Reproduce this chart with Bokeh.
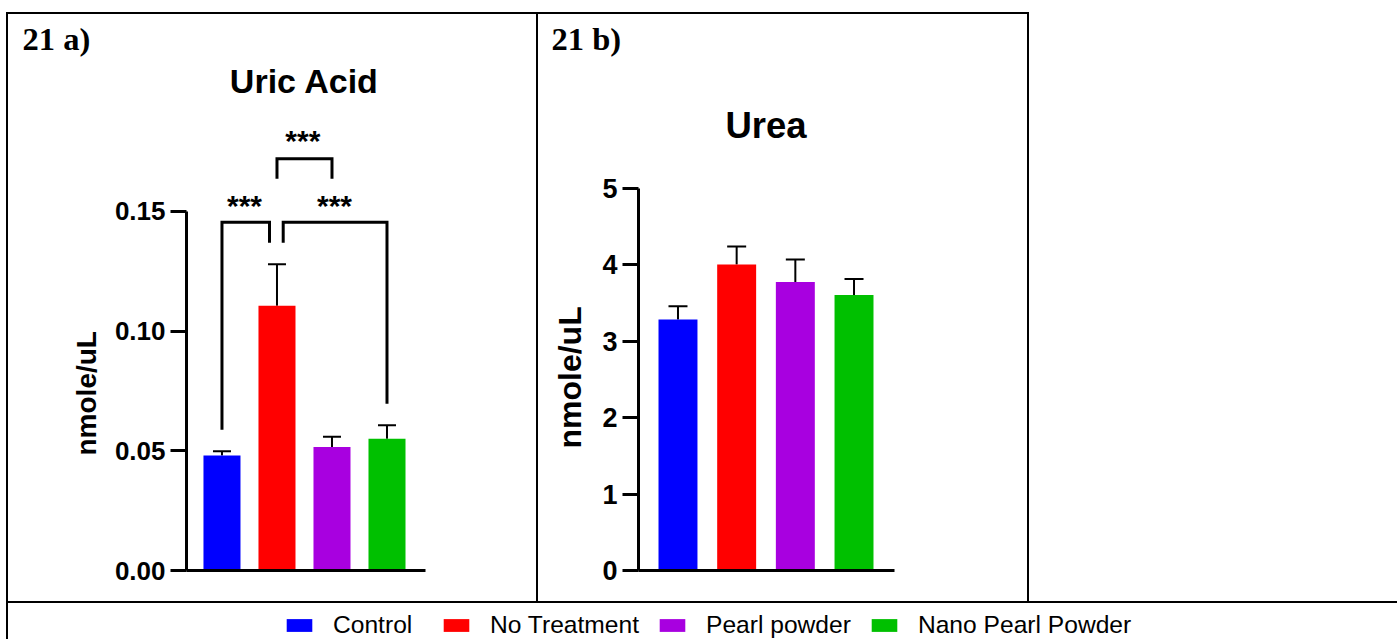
from bokeh.plotting import figure
from bokeh.models import (ColumnDataSource, Range1d, LinearAxis, FixedTicker, Whisker, TeeHead,
                          Title, Legend, LegendItem, Div, Spacer, NumeralTickFormatter)
from bokeh.layouts import row, column
from bokeh.embed import file_html
from bokeh.resources import INLINE
from bokeh.core.properties import value

# ---------------- data ----------------
groups = ["Control", "No Treatment", "Pearl powder", "Nano Pearl Powder"]
colors = ["#0000FF", "#FF0000", "#A800E0", "#00C000"]

uric_mean = [0.0481, 0.1106, 0.0516, 0.0551]
uric_err = [0.0017, 0.0174, 0.0043, 0.0056]
urea_mean = [3.28, 4.00, 3.77, 3.60]
urea_err = [0.175, 0.235, 0.295, 0.21]

uric_ticks = [0.0, 0.05, 0.10, 0.15]
urea_ticks = [0, 1, 2, 3, 4, 5]

# significance comparisons (uric acid): group i vs group j
uric_sig_pairs = [(0, 1), (1, 3), (1, 2)]
uric_sig_text = ["***", "***", "***"]

FONT = "Liberation Sans"
SERIF = "Liberation Serif"


def style_axes(p, ticks, tick_size, fmt=None):
    yax = LinearAxis(bounds=(ticks[0], ticks[-1]), ticker=FixedTicker(ticks=ticks))
    if fmt:
        yax.formatter = NumeralTickFormatter(format=fmt)
    yax.axis_line_width = 3
    yax.axis_line_color = "black"
    yax.major_tick_line_width = 3
    yax.major_tick_out = 16
    yax.major_tick_in = 0
    yax.minor_tick_line_color = None
    yax.major_label_standoff = 5
    yax.major_label_text_font = FONT
    yax.major_label_text_font_style = "bold"
    yax.major_label_text_font_size = tick_size
    yax.major_label_text_color = "black"
    p.add_layout(yax, "left")

    xax = LinearAxis(ticker=FixedTicker(ticks=[]))
    xax.axis_line_width = 3
    xax.axis_line_color = "black"
    xax.major_tick_line_color = None
    xax.minor_tick_line_color = None
    xax.major_label_text_font_size = "0px"
    p.add_layout(xax, "below")


def make_chart(width, x_range, y_range, mb_left, mb_right):
    p = figure(width=width, height=587, x_range=x_range, y_range=y_range,
               x_axis_type=None, y_axis_type=None, toolbar_location=None,
               output_backend="svg", min_border_left=mb_left, min_border_right=mb_right,
               min_border_top=50, min_border_bottom=31)
    p.outline_line_color = None
    p.background_fill_color = "white"
    p.border_fill_color = "white"
    return p


def add_titles(p, tag, tag_offset, ylab_size, ylab_offset, ylab_standoff):
    p.add_layout(Title(text=tag, align="left", vertical_align="top", offset=tag_offset,
                       text_font=SERIF, text_font_style="bold", text_font_size="32.5px",
                       text_color="black", standoff=12), "above")
    p.add_layout(Title(text="nmole/uL", align="left", offset=ylab_offset, text_font=FONT,
                       text_font_style="bold", text_font_size=ylab_size, text_color="black",
                       standoff=ylab_standoff), "left")


# ---------------- chart a: Uric Acid ----------------
xa = list(range(len(groups)))
src_a = ColumnDataSource(dict(x=xa, top=uric_mean,
                              upper=[m + e for m, e in zip(uric_mean, uric_err)],
                              color=colors))
pa = make_chart(528, Range1d(-0.645, 3.70), Range1d(0, 0.21142), 178, 111)
style_axes(pa, uric_ticks, "26px", fmt="0.00")
add_titles(pa, "21 a)", -164, "28px", 115, 20)
pa.vbar(x="x", top="top", bottom=0, width=0.673, color="color", line_color=None, source=src_a)
pa.add_layout(Whisker(base="x", upper="upper", lower="top", source=src_a, dimension="height",
                      line_width=2, line_color="black",
                      upper_head=TeeHead(size=18, line_width=2, line_color="black"),
                      lower_head=None))

# significance brackets
br_xs, br_ys, st_x, st_y = [], [], [], []
(i0, j0), (i1, j1), (i2, j2) = uric_sig_pairs
br_xs.append([xa[i0], xa[i0], xa[j0] - 0.136, xa[j0] - 0.136])
br_ys.append([0.0588, 0.1455, 0.1455, 0.1369])
st_x.append(0.41); st_y.append(0.1532)
br_xs.append([xa[i1] + 0.113, xa[i1] + 0.113, xa[j1], xa[j1]])
br_ys.append([0.1369, 0.1455, 0.1455, 0.0697])
st_x.append(2.045); st_y.append(0.1532)
br_xs.append([xa[i2], xa[i2], xa[j2], xa[j2]])
br_ys.append([0.1637, 0.1720, 0.1720, 0.1637])
st_x.append(1.47); st_y.append(0.1805)
pa.multi_line(xs=br_xs, ys=br_ys, line_width=3, line_color="black", line_join="miter")
pa.text(x=st_x, y=st_y, text=uric_sig_text, text_font=value(FONT), text_font_style="bold",
        text_font_size="30px", text_align="center", text_baseline="alphabetic",
        y_offset=2, text_color="black")
pa.text(x=[1.5], y=[0.2047], text=["Uric Acid"], text_font=value(FONT),
        text_font_style="bold", text_font_size="34px", text_align="center",
        text_baseline="alphabetic", text_color="black")

# ---------------- chart b: Urea ----------------
src_b = ColumnDataSource(dict(x=xa, top=urea_mean,
                              upper=[m + e for m, e in zip(urea_mean, urea_err)],
                              color=colors))
pb = make_chart(489, Range1d(-0.673, 3.69), Range1d(0, 6.6144), 100, 133)
style_axes(pb, urea_ticks, "27px")
add_titles(pb, "21 b)", -87, "32px", 122, 23)
pb.vbar(x="x", top="top", bottom=0, width=0.664, color="color", line_color=None, source=src_b)
pb.add_layout(Whisker(base="x", upper="upper", lower="top", source=src_b, dimension="height",
                      line_width=2, line_color="black",
                      upper_head=TeeHead(size=19, line_width=2, line_color="black"),
                      lower_head=None))
pb.text(x=[1.5], y=[5.813], text=["Urea"], text_font=value(FONT),
        text_font_style="bold", text_font_size="36.5px", text_align="center",
        text_baseline="alphabetic", text_color="black")

# ---------------- legend row ----------------
lf = figure(width=1389, height=36, x_range=Range1d(-100, -99), y_range=Range1d(0, 1),
            x_axis_type=None, y_axis_type=None, toolbar_location=None,
            output_backend="svg", min_border=0)
lf.outline_line_color = None
items = []
for k, (g, c) in enumerate(zip(groups, colors)):
    r = lf.vbar(x=[xa[k]], top=[uric_mean[k]], width=0.5, fill_color=c, line_color=None)
    items.append(LegendItem(label=g, renderers=[r]))


def make_legend(its, x, spacing):
    return Legend(items=its, orientation="horizontal", location=(x, 0),
                  glyph_width=32, glyph_height=16, label_standoff=18, spacing=spacing,
                  padding=0, margin=0, border_line_color=None, background_fill_alpha=0,
                  label_text_font=FONT, label_text_font_size="24.6px",
                  label_text_color="black")


lf.add_layout(make_legend(items[:1], 275, 30))
lf.add_layout(make_legend(items[1:], 432, 17))


def hline(w):
    return Div(width=w, height=2, margin=0, styles={"background-color": "black"})


def vline(h):
    return Div(width=2, height=h, margin=0, styles={"background-color": "black"})


layout = column(
    Spacer(width=1029, height=12, margin=0),
    row(Spacer(width=6, height=2, margin=0), hline(1023), spacing=0),
    row(Spacer(width=6, height=587, margin=0), vline(587), pa, vline(587), pb, vline(587),
        spacing=0),
    row(Spacer(width=6, height=2, margin=0), hline(1391), spacing=0),
    row(Spacer(width=6, height=36, margin=0), vline(36), lf, spacing=0),
    spacing=0,
)

open("out.html", "w").write(file_html(layout, INLINE))
